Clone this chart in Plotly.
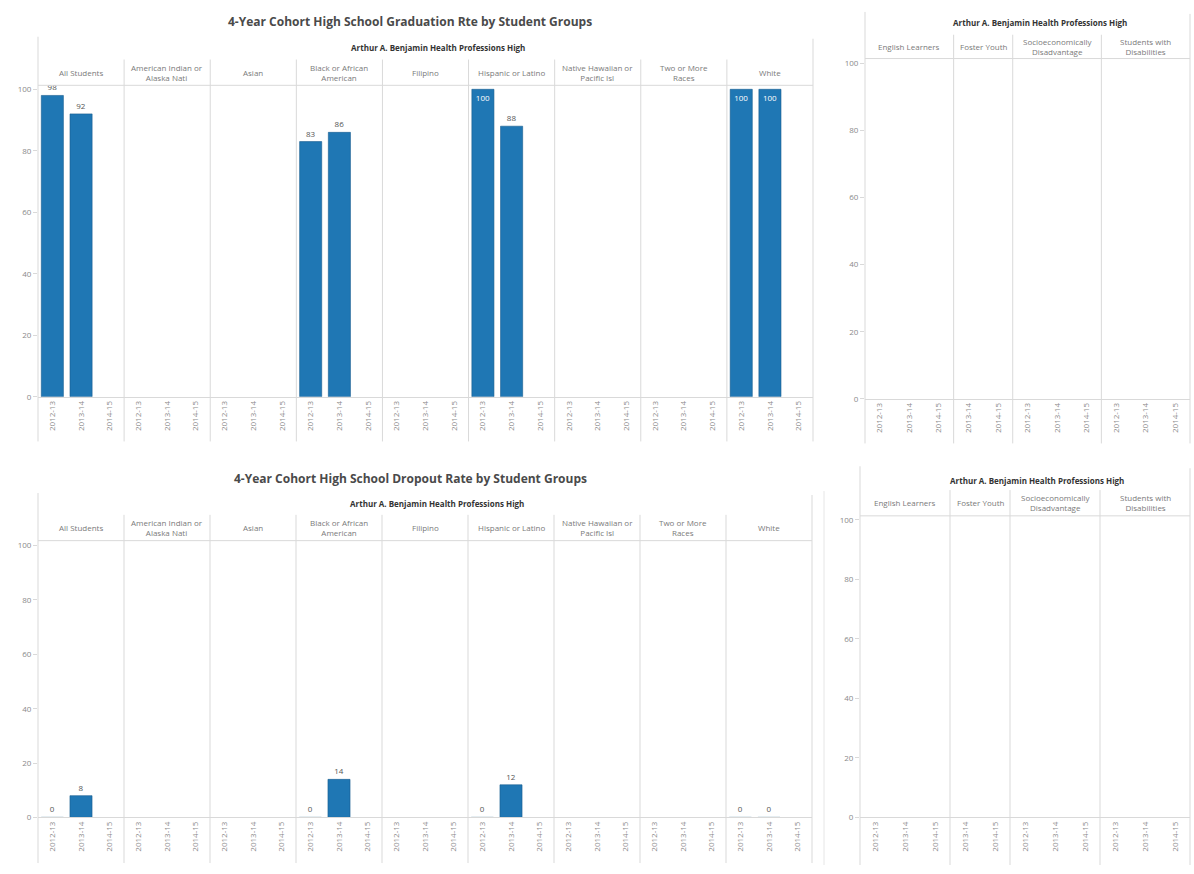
import plotly.graph_objects as go

W, H = 1194, 874
BLUE = "#1f77b4"
FONT = "Open Sans"

# ---------------- data ----------------
years = ["2012-13", "2013-14", "2014-15"]

main_groups = ["All Students", "American Indian or Alaska Nati", "Asian",
               "Black or African American", "Filipino", "Hispanic or Latino",
               "Native Hawaiian or Pacific Isl", "Two or More Races", "White"]
main_group_labels = ["All Students", "American Indian or<br>Alaska Nati", "Asian",
                     "Black or African<br>American", "Filipino", "Hispanic or Latino",
                     "Native Hawaiian or<br>Pacific Isl", "Two or More<br>Races", "White"]

grad_2012_13 = [98, None, None, 83, None, 100, None, None, 100]
grad_2013_14 = [92, None, None, 86, None, 88, None, None, 100]
grad_2014_15 = [None, None, None, None, None, None, None, None, None]

drop_2012_13 = [0, None, None, 0, None, 0, None, None, 0]
drop_2013_14 = [8, None, None, 14, None, 12, None, None, 0]
drop_2014_15 = [None, None, None, None, None, None, None, None, None]

sub_groups = ["English Learners", "Foster Youth",
              "Socioeconomically Disadvantage", "Students with Disabilities"]
sub_group_labels = ["English Learners", "Foster Youth",
                    "Socioeconomically<br>Disadvantage", "Students with<br>Disabilities"]
sub_group_years = [["2012-13", "2013-14", "2014-15"],
                   ["2013-14", "2014-15"],
                   ["2012-13", "2013-14", "2014-15"],
                   ["2012-13", "2013-14", "2014-15"]]
sub_grad_values = [[None, None, None], [None, None], [None, None, None], [None, None, None]]
sub_drop_values = [[None, None, None], [None, None], [None, None, None], [None, None, None]]

y_ticks = [0, 20, 40, 60, 80, 100]
y_tick_labels = ["0", "20", "40", "60", "80", "100"]

school = "Arthur A. Benjamin Health Professions High"
grad_title = "4-Year Cohort High School Graduation Rte by Student Groups"
drop_title = "4-Year Cohort High School Dropout Rate by Student Groups"

main_years = [years for _ in main_groups]
main_grad_values = [[grad_2012_13[i], grad_2013_14[i], grad_2014_15[i]] for i in range(len(main_groups))]
main_drop_values = [[drop_2012_13[i], drop_2013_14[i], drop_2014_15[i]] for i in range(len(main_groups))]

# ---------------- helpers ----------------
def fx(p):
    return p / W

def fy(p):
    return 1 - p / H

fig = go.Figure()
layout = {}
shapes = []
annotations = []
state = {"x": 0, "y": 0}
LINE = "#d9d9d9"


def add_chart(labels, gyears, gvalues, x0, x1, top, zero, y100, row_top, line_top,
              label_bottom, header_y, title=None, title_y=None, title_x=None):
    state["y"] += 1
    yk = state["y"]
    yname = "y" if yk == 1 else f"y{yk}"
    ylayout = "yaxis" if yk == 1 else f"yaxis{yk}"
    ymax = (zero - top) / (zero - y100) * 100
    ncat = sum(len(g) for g in gyears)
    step = (x1 - x0) / ncat
    cur = x0
    first_x = None
    for gi, (lab, yrs, vals) in enumerate(zip(labels, gyears, gvalues)):
        state["x"] += 1
        xk = state["x"]
        xname = "x" if xk == 1 else f"x{xk}"
        xlayout = "xaxis" if xk == 1 else f"xaxis{xk}"
        if first_x is None:
            first_x = xname
        gx0 = cur
        gx1 = cur + step * len(yrs)
        cur = gx1
        layout[xlayout] = dict(
            domain=[fx(gx0), fx(gx1)], anchor=yname, type="category",
            categoryorder="array", categoryarray=yrs, range=[-0.5, len(yrs) - 0.5],
            tickangle=-90, tickfont=dict(size=8, color="#8a8a8a", family=FONT),
            showgrid=False, zeroline=False, showline=True, linecolor=LINE,
            ticks="", fixedrange=True,
        )
        texts = ["" if v is None else str(v) for v in vals]
        pos = ["inside" if (v is not None and v >= 100) else "outside" for v in vals]
        fig.add_trace(go.Bar(
            x=yrs, y=vals, xaxis=xname, yaxis=yname,
            marker=dict(color=BLUE, line=dict(color="#175d8f", width=0.6)),
            text=texts, textposition=pos, insidetextanchor="end",
            insidetextfont=dict(size=8, color="white", family=FONT),
            outsidetextfont=dict(size=8, color="#555555", family=FONT),
            constraintext="none", cliponaxis=False, showlegend=False,
            hoverinfo="x+y",
        ))
        # group label
        annotations.append(dict(
            x=fx((gx0 + gx1) / 2), y=fy((row_top + top) / 2), xref="paper", yref="paper",
            text=lab, showarrow=False, xanchor="center", yanchor="middle",
            font=dict(size=8, color="#7a7a7a", family=FONT), align="center",
        ))
        # divider at right side of group (except last)
        if gi < len(labels) - 1:
            shapes.append(dict(type="line", xref="paper", yref="paper",
                               x0=fx(gx1), x1=fx(gx1), y0=fy(row_top), y1=fy(label_bottom),
                               line=dict(color=LINE, width=1)))
    layout[ylayout] = dict(
        domain=[fy(zero), fy(top)], anchor=first_x, range=[0, ymax],
        tickvals=y_ticks, ticktext=y_tick_labels,
        tickfont=dict(size=8, color="#8a8a8a", family=FONT),
        ticks="outside", ticklen=4, tickcolor=LINE,
        showgrid=False, zeroline=False, showline=False, fixedrange=True,
    )
    # frame lines
    shapes.append(dict(type="line", xref="paper", yref="paper", x0=fx(x0), x1=fx(x0),
                       y0=fy(line_top), y1=fy(label_bottom), line=dict(color=LINE, width=1)))
    shapes.append(dict(type="line", xref="paper", yref="paper", x0=fx(x1), x1=fx(x1),
                       y0=fy(line_top + 2), y1=fy(label_bottom), line=dict(color=LINE, width=1)))
    shapes.append(dict(type="line", xref="paper", yref="paper", x0=fx(x0), x1=fx(x1),
                       y0=fy(top), y1=fy(top), line=dict(color=LINE, width=1)))
    # school header
    annotations.append(dict(
        x=fx((x0 + x1) / 2 + 12), y=fy(header_y), xref="paper", yref="paper",
        text=f"<b>{school}</b>", showarrow=False, xanchor="center", yanchor="middle",
        font=dict(size=8, color="#333333", family=FONT),
    ))
    if title:
        annotations.append(dict(
            x=fx(title_x), y=fy(title_y), xref="paper", yref="paper",
            text=f"<b>{title}</b>", showarrow=False, xanchor="center", yanchor="middle",
            font=dict(size=12, color="#4a4a4a", family=FONT),
        ))


# top-left: graduation, race/ethnicity
add_chart(main_group_labels, main_years, main_grad_values,
          x0=38, x1=813, top=84, zero=398, y100=88, row_top=58, line_top=35,
          label_bottom=443, header_y=46, title=grad_title, title_y=20, title_x=410)
# top-right: graduation, program groups
add_chart(sub_group_labels, sub_group_years, sub_grad_values,
          x0=865, x1=1190, top=57, zero=400, y100=62, row_top=33, line_top=10,
          label_bottom=445, header_y=21)
# bottom-left: dropout, race/ethnicity
add_chart(main_group_labels, main_years, main_drop_values,
          x0=38, x1=812, top=543, zero=822, y100=548, row_top=517, line_top=495,
          label_bottom=868, header_y=506, title=drop_title, title_y=480, title_x=410)
# bottom-right: dropout, program groups
add_chart(sub_group_labels, sub_group_years, sub_drop_values,
          x0=860, x1=1190, top=518, zero=822, y100=522, row_top=492, line_top=468,
          label_bottom=870, header_y=482)

shapes.append(dict(type="line", xref="paper", yref="paper", x0=fx(824), x1=fx(824),
                   y0=fy(493), y1=fy(870), line=dict(color="#e6e6e6", width=1)))

fig.update_layout(
    width=W, height=H, autosize=False,
    margin=dict(l=0, r=0, t=0, b=0, pad=0),
    paper_bgcolor="white", plot_bgcolor="white",
    bargap=0.23, showlegend=False,
    font=dict(family=FONT, size=8, color="#666666"),
    shapes=shapes, annotations=annotations,
    **layout,
)

fig.write_html("out.html")
